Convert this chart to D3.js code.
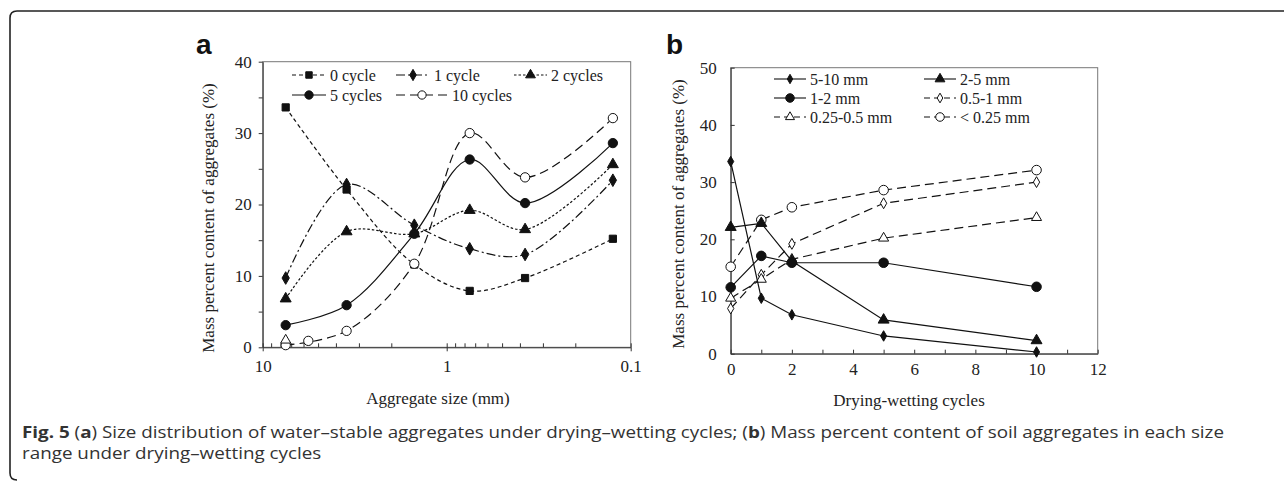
<!DOCTYPE html>
<html>
<head>
<meta charset="utf-8">
<script src="https://cdn.jsdelivr.net/npm/d3@7"></script>
<style>
  body { margin: 0; background: #fff; }
  svg { display: block; }
  .serif { font-family: "Liberation Serif", "Times New Roman", serif; fill: #222; }
</style>
</head>
<body>
<main></main>
<script>
(function(){

  const W = 1284, H = 481;

  // DATA
  const cycles = [0, 1, 2, 5, 10];
  const cycleLabels = ["0 cycle", "1 cycle", "2 cycles", "5 cycles", "10 cycles"];
  const sizeLabels = ["5-10 mm", "2-5 mm", "1-2 mm", "0.5-1 mm", "0.25-0.5 mm", "< 0.25 mm"];
  const sizeMid = [7.5, 3.5, 1.5, 0.75, 0.375, 0.125];   // mm, x position in panel a

  // mass percent, one array per size class, values at cycles 0,1,2,5,10
  const pct5to10   = [33.6, 9.7, 6.8, 3.1, 0.3];
  const pct2to5    = [22.1, 22.8, 16.2, 5.9, 2.3];
  const pct1to2    = [11.6, 17.1, 15.9, 15.9, 11.7];
  const pct05to1   = [7.9, 13.8, 19.2, 26.3, 30.0];
  const pct025to05 = [9.7, 13.0, 16.5, 20.2, 23.8];
  const pctBelow025 = [15.2, 23.4, 25.6, 28.6, 32.1];
  const bySize = [pct5to10, pct2to5, pct1to2, pct05to1, pct025to05, pctBelow025];

  // stray markers in panel a, near the coarse end
  const strayA = [
    {size: 7.5, v: 1.0, shape: "triangle"},
    {size: 5.65, v: 0.9, shape: "circle"}
  ];

  const yTicksA = [0, 5, 10, 15, 20, 25, 30, 35, 40];
  const xMajorA = [10, 1, 0.1];
  const yTicksB = [0, 10, 20, 30, 40, 50];
  const xTicksB = [0, 1, 2, 3, 4, 5, 6, 7, 8, 9, 10, 11, 12];

  const caption1 = "Size distribution of water–stable aggregates under drying–wetting cycles; (";
  const caption2 = ") Mass percent content of soil aggregates in each size";
  const caption3 = "range under drying–wetting cycles";

  const svg = d3.select("main").append("svg")
    .attr("width", W).attr("height", H);

  // outer frame (rounded, open to the right/bottom)
  svg.append("path")
    .attr("d", "M1290,11 L17,11 Q10,11 10,18 L10,473 Q10,480 17,480")
    .attr("fill", "none").attr("stroke", "#222").attr("stroke-width", 1.6);

  const symbolTypes = {
    square: d3.symbolSquare, diamond: d3.symbolDiamond,
    triangle: d3.symbolTriangle, circle: d3.symbolCircle
  };
  function marker(g, shape, filled, size, x, y) {
    g.append("path")
      .attr("d", d3.symbol().type(symbolTypes[shape]).size(size)())
      .attr("transform", "translate(" + x + "," + y + ")")
      .attr("fill", filled ? "#111" : "#fff")
      .attr("stroke", "#111").attr("stroke-width", 1);
  }
  function styleAxis(g) {
    g.attr("font-family", "Liberation Serif, Times New Roman, serif")
     .attr("font-size", 17);
    g.selectAll(".tick text").attr("fill", "#222");
    g.selectAll(".tick line").attr("stroke", "#333");
  }

  // ---------------- PANEL A ----------------
  const xA = d3.scaleLog().domain([10, 0.1]).range([262.7, 630.7]);
  const yA = d3.scaleLinear().domain([0, 40]).range([347.3, 61.7]);
  const gA = svg.append("g");

  gA.append("rect")
    .attr("x", xA.range()[0]).attr("y", yA.range()[1])
    .attr("width", xA.range()[1] - xA.range()[0])
    .attr("height", yA.range()[0] - yA.range()[1])
    .attr("fill", "none").attr("stroke", "#777").attr("stroke-width", 1);

  const minorA = [];
  [1, 0.1].forEach(dec => { for (let k = 2; k <= 9; k++) minorA.push(k * dec); });

  gA.append("g").attr("transform", "translate(0," + yA.range()[0] + ")")
    .call(d3.axisTop(xA).tickValues(minorA).tickSizeInner(4).tickSizeOuter(0).tickFormat(""))
    .call(g => g.select(".domain").remove()).call(styleAxis);
  gA.append("g").attr("transform", "translate(0," + yA.range()[0] + ")")
    .call(d3.axisTop(xA).tickValues(xMajorA).tickSizeInner(4).tickSizeOuter(0).tickFormat(""))
    .call(g => g.select(".domain").remove()).call(styleAxis);
  gA.append("g").attr("transform", "translate(0," + yA.range()[0] + ")")
    .call(d3.axisBottom(xA).tickValues(xMajorA).tickSizeInner(4).tickSizeOuter(0).tickPadding(9)
      .tickFormat(d => d >= 1 ? d3.format("d")(d) : d3.format(".1f")(d)))
    .call(g => g.select(".domain").attr("stroke", "#333")).call(styleAxis);

  gA.append("g").attr("transform", "translate(" + xA.range()[0] + ",0)")
    .call(d3.axisLeft(yA).tickValues(yTicksA).tickSizeInner(4).tickSizeOuter(0).tickPadding(7)
      .tickFormat(d => d % 10 === 0 ? d : ""))
    .call(g => g.select(".domain").attr("stroke", "#333")).call(styleAxis);

  const styleA = [
    {shape: "square", filled: true, size: 52, dash: "4,3"},
    {shape: "diamond", filled: true, size: 46, dash: "9,3,2,3"},
    {shape: "triangle", filled: true, size: 52, dash: "2.5,2"},
    {shape: "circle", filled: true, size: 68, dash: null},
    {shape: "circle", filled: false, size: 68, dash: "9,5"}
  ];

  const lineA = d3.line()
    .x(d => xA(d.size)).y(d => yA(d.v))
    .curve(d3.curveCatmullRom.alpha(0.5));

  cycles.forEach((c, ci) => {
    const pts = sizeMid.map((s, si) => ({size: s, v: bySize[si][ci]}));
    const st = styleA[ci];
    gA.append("path").datum(pts)
      .attr("d", lineA)
      .attr("fill", "none").attr("stroke", "#111").attr("stroke-width", 1.2)
      .attr("stroke-dasharray", st.dash);
    pts.forEach(p => marker(gA, st.shape, st.filled, st.size, xA(p.size), yA(p.v)));
  });
  strayA.forEach(p => marker(gA, p.shape, false, p.shape === "circle" ? 68 : 44, xA(p.size), yA(p.v)));

  // legend a
  const legA = gA.append("g").attr("class", "serif");
  const legPosA = [[292, 75], [396, 75], [514, 75], [292, 95], [396, 95]];
  cycleLabels.forEach((lab, i) => {
    const [lx, ly] = legPosA[i];
    const st = styleA[i];
    const len = i === 4 ? 52 : (i === 2 ? 33 : 34);
    legA.append("line")
      .attr("x1", lx).attr("x2", lx + len).attr("y1", ly).attr("y2", ly)
      .attr("stroke", "#111").attr("stroke-width", 1.1)
      .attr("stroke-dasharray", st.dash);
    marker(legA, st.shape, st.filled, st.size * 0.8, lx + len / 2, ly);
    legA.append("text").attr("x", lx + len + 4).attr("y", ly + 5.5)
      .attr("font-size", 16).text(lab);
  });

  gA.append("text").attr("class", "serif")
    .attr("x", 438).attr("y", 404).attr("text-anchor", "middle")
    .attr("font-size", 17).text("Aggregate size (mm)");
  gA.append("text").attr("class", "serif")
    .attr("transform", "translate(214,218) rotate(-90)")
    .attr("text-anchor", "middle").attr("font-size", 17)
    .text("Mass percent content of aggregates (%)");
  gA.append("text").attr("x", 196).attr("y", 54)
    .attr("font-family", "Liberation Sans, Arial, sans-serif").attr("font-weight", "bold")
    .attr("font-size", 28).attr("fill", "#111").text("a");

  // ---------------- PANEL B ----------------
  const xB = d3.scaleLinear().domain([0, 12]).range([730.7, 1097.7]);
  const yB = d3.scaleLinear().domain([0, 50]).range([353.7, 67.7]);
  const gB = svg.append("g");

  gB.append("rect")
    .attr("x", xB.range()[0]).attr("y", yB.range()[1])
    .attr("width", xB.range()[1] - xB.range()[0])
    .attr("height", yB.range()[0] - yB.range()[1])
    .attr("fill", "none").attr("stroke", "#777").attr("stroke-width", 1);

  gB.append("g").attr("transform", "translate(0," + yB.range()[0] + ")")
    .call(d3.axisBottom(xB).tickValues(xTicksB).tickSizeInner(-4).tickSizeOuter(0).tickPadding(9)
      .tickFormat(d => d % 2 === 0 ? d : ""))
    .call(g => g.select(".domain").attr("stroke", "#333")).call(styleAxis);
  gB.append("g").attr("transform", "translate(" + xB.range()[0] + ",0)")
    .call(d3.axisLeft(yB).tickValues(yTicksB).tickSizeInner(-4).tickSizeOuter(0).tickPadding(14))
    .call(g => g.select(".domain").attr("stroke", "#333")).call(styleAxis);

  const styleB = [
    {shape: "diamond", filled: true, size: 32, dash: null},
    {shape: "triangle", filled: true, size: 52, dash: null},
    {shape: "circle", filled: true, size: 72, dash: null},
    {shape: "diamond", filled: false, size: 34, dash: "9,5"},
    {shape: "triangle", filled: false, size: 44, dash: "9,5"},
    {shape: "circle", filled: false, size: 72, dash: "9,5"}
  ];

  const lineB = d3.line().x(d => xB(d.c)).y(d => yB(d.v));

  // dashed series first, solid on top
  [3, 4, 5, 0, 1, 2].forEach(si => {
    const pts = cycles.map((c, ci) => ({c: c, v: bySize[si][ci]}));
    const st = styleB[si];
    gB.append("path").datum(pts)
      .attr("d", lineB)
      .attr("fill", "none").attr("stroke", "#111").attr("stroke-width", 1.2)
      .attr("stroke-dasharray", st.dash);
    pts.forEach(p => marker(gB, st.shape, st.filled, st.size, xB(p.c), yB(p.v)));
  });

  const legB = gB.append("g").attr("class", "serif");
  sizeLabels.forEach((lab, i) => {
    const lx = i % 2 === 0 ? 774 : 924;
    const ly = [79, 98, 117][Math.floor(i / 2)];
    const st = styleB[i];
    legB.append("line")
      .attr("x1", lx).attr("x2", lx + 32).attr("y1", ly).attr("y2", ly)
      .attr("stroke", "#111").attr("stroke-width", 1.1)
      .attr("stroke-dasharray", st.dash ? "6,4" : null);
    marker(legB, st.shape, st.filled, st.size * 0.8, lx + 16, ly);
    legB.append("text").attr("x", lx + 36).attr("y", ly + 5.5)
      .attr("font-size", 16).text(lab);
  });

  gB.append("text").attr("class", "serif")
    .attr("x", 909).attr("y", 406).attr("text-anchor", "middle")
    .attr("font-size", 17).text("Drying-wetting cycles");
  gB.append("text").attr("class", "serif")
    .attr("transform", "translate(684,214) rotate(-90)")
    .attr("text-anchor", "middle").attr("font-size", 17)
    .text("Mass percent content of aggregates (%)");
  gB.append("text").attr("x", 666).attr("y", 54)
    .attr("font-family", "Liberation Sans, Arial, sans-serif").attr("font-weight", "bold")
    .attr("font-size", 28).attr("fill", "#111").text("b");

  // ---------------- CAPTION ----------------
  const capG = svg.append("g");
  const cap = capG.append("text")
    .attr("x", 0).attr("y", 438)
    .attr("font-family", "Open Sans, sans-serif").attr("font-size", 16.5).attr("fill", "#333");
  cap.append("tspan").attr("font-weight", "bold").text("Fig. 5");
  cap.append("tspan").text(" (");
  cap.append("tspan").attr("font-weight", "bold").text("a");
  cap.append("tspan").text(") " + caption1);
  cap.append("tspan").attr("font-weight", "bold").text("b");
  cap.append("tspan").text(caption2);
  capG.append("text")
    .attr("x", 0).attr("y", 459)
    .attr("font-family", "Open Sans, sans-serif").attr("font-size", 16.5).attr("fill", "#333")
    .text(caption3);
  // the caption in the figure is set wider than the font; stretch it to the same line width
  const capLen = cap.node().getComputedTextLength();
  const sx = capLen > 0 ? 1203 / capLen : 1;
  capG.attr("transform", "translate(22,0) scale(" + sx + ",1)");

})()
</script>
</body>
</html>
